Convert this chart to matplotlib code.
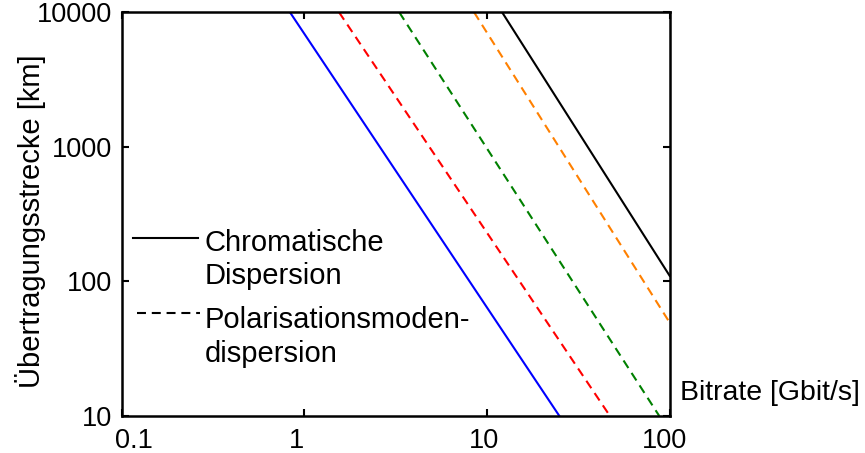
import matplotlib
matplotlib.use("Agg")
import matplotlib.pyplot as plt
from matplotlib.transforms import ScaledTranslation

plt.rcParams["font.family"] = ["Liberation Sans", "DejaVu Sans"]

# Bitrate [Gbit/s] and distance [km] where each limit line enters and leaves the plot
bitrate_start = [0.835, 1.55, 3.31, 8.5, 12.1]
distance_start = [10000, 10000, 10000, 10000, 10000]
bitrate_end = [24.9, 47.1, 87.7, 100, 100]
distance_end = [10, 10, 10, 49.4, 110]
line_colors = ["#0000ff", "#ff0000", "#008000", "#ff8000", "#000000"]
line_dashed = [False, True, True, True, False]

x_ticks = [0.1, 1, 10, 100]
x_tick_labels = ["0.1", "1", "10", "100"]
y_ticks = [10, 100, 1000, 10000]
y_tick_labels = ["10", "100", "1000", "10000"]

legend_lines = [["Chromatische", "Dispersion"],
                ["Polarisationsmoden-", "dispersion"]]

DASH = (4.3, 2.8)
W, H = 865, 453

fig = plt.figure(figsize=(W / 100, H / 100), dpi=100)
ax = fig.add_axes([121.6 / W, 1 - 416 / H, (669.7 - 121.6) / W, (416 - 12.3) / H])

for x0, y0, x1, y1, c, dashed in zip(bitrate_start, distance_start, bitrate_end,
                                      distance_end, line_colors, line_dashed):
    style = {"dashes": DASH} if dashed else {"linestyle": "-"}
    ax.plot([x0, x1], [y0, y1], color=c, linewidth=1.5, **style)

ax.set_xscale("log")
ax.set_yscale("log")
ax.set_xlim(0.1, 100)
ax.set_ylim(10, 10000)
ax.set_xticks(x_ticks)
ax.set_xticklabels(x_tick_labels)
ax.set_yticks(y_ticks)
ax.set_yticklabels(y_tick_labels)
ax.minorticks_off()
ax.tick_params(which="both", direction="in", length=5, width=1.5,
               top=True, right=True, labelsize=19.5, pad=7)
ax.tick_params(axis="x", pad=8.5)
for s in ax.spines.values():
    s.set_linewidth(1.8)

# nudge the bottom tick labels sideways (pixels)
x_label_shift = [12, -8, -3, -5]
for lab, dx in zip(ax.get_xticklabels(), x_label_shift):
    lab.set_transform(lab.get_transform() +
                      ScaledTranslation(dx / 100, 0, fig.dpi_scale_trans))

fig.text(31 / W, 1 - 221 / H, "Übertragungsstrecke [km]", rotation=90,
         ha="center", va="center", fontsize=21)
fig.text(680 / W, 1 - 393 / H, "Bitrate [Gbit/s]", ha="left", va="center",
         fontsize=20.5)

# Legend: sample line next to the first text line of each entry
handle_y = [238, 313]
handle_x = [(133, 198), (137, 200)]
baselines = [(250.7, 284), (328, 361.7)]
for i, lines in enumerate(legend_lines):
    (hx0, hx1), hy = handle_x[i], handle_y[i]
    style = {"dashes": DASH} if i == 1 else {"linestyle": "-"}
    fig.add_artist(plt.Line2D([hx0 / W, hx1 / W], [1 - hy / H, 1 - hy / H],
                              color="black", linewidth=1.5, **style))
    for txt, by in zip(lines, baselines[i]):
        fig.text(205 / W, 1 - by / H, txt, ha="left", va="baseline",
                 fontsize=21)

fig.savefig("out.png", dpi=100)
